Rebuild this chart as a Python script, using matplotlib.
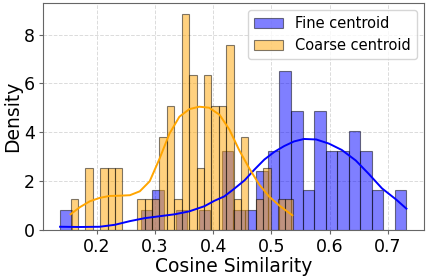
import matplotlib
matplotlib.use('Agg')
import matplotlib.pyplot as plt
import numpy as np

# histogram ranges (data min / max) and bin densities
fine_range = (0.137, 0.732)
fine_density = [0.81, 0, 0, 0, 0, 0, 0, 0.81, 1.63, 0, 0.81, 0, 0.81, 0, 3.25,
                0.81, 0.81, 2.44, 3.25, 6.50, 4.88, 1.63, 4.88, 3.25, 3.25, 4.07,
                3.25, 1.63, 0, 1.63]
coarse_range = (0.155, 0.537)
coarse_density = [1.27, 0, 2.53, 0, 2.53, 2.53, 2.53, 0, 0, 1.27, 1.27, 1.27, 3.80,
                  5.06, 1.27, 8.86, 6.33, 2.53, 6.33, 5.06, 5.06, 7.59, 1.27, 3.80,
                  0, 1.27, 2.53, 0, 1.27, 1.27]

# kde curves
fine_kde_x = [0.137, 0.171, 0.205, 0.231, 0.257, 0.282, 0.308, 0.334, 0.359, 0.385,
              0.402, 0.419, 0.436, 0.454, 0.471, 0.488, 0.505, 0.522, 0.539, 0.556,
              0.577, 0.599, 0.621, 0.645, 0.667, 0.690, 0.714, 0.732]
fine_kde_y = [0.14, 0.13, 0.14, 0.22, 0.37, 0.49, 0.57, 0.65, 0.77, 0.98,
              1.20, 1.38, 1.69, 2.04, 2.48, 2.89, 3.20, 3.44, 3.63, 3.73,
              3.71, 3.54, 3.28, 2.85, 2.31, 1.71, 1.26, 0.88]
coarse_kde_x = [0.155, 0.171, 0.188, 0.205, 0.222, 0.239, 0.257, 0.274, 0.291, 0.308,
                0.325, 0.342, 0.359, 0.376, 0.393, 0.411, 0.428, 0.445, 0.462, 0.479,
                0.496, 0.513, 0.536]
coarse_kde_y = [0.65, 0.94, 1.18, 1.32, 1.40, 1.41, 1.43, 1.59, 2.00, 2.93,
                3.95, 4.64, 4.95, 5.05, 5.01, 4.72, 4.11, 3.26, 2.53, 1.87,
                1.38, 1.02, 0.61]

fig = plt.figure(figsize=(4.26, 2.79), dpi=100)
ax = fig.add_axes([0.1, 0.175, 0.895, 0.815])
ax.set_axisbelow(True)
ax.grid(True, linestyle='--', color='#cccccc', linewidth=0.7, alpha=0.7)

fe = np.linspace(fine_range[0], fine_range[1], len(fine_density) + 1)
ce = np.linspace(coarse_range[0], coarse_range[1], len(coarse_density) + 1)

ax.bar(fe[:-1], fine_density, width=np.diff(fe), align='edge', color='blue',
       edgecolor='black', linewidth=0.8, alpha=0.5, label='Fine centroid')
ax.bar(ce[:-1], coarse_density, width=np.diff(ce), align='edge', color='orange',
       edgecolor='black', linewidth=0.8, alpha=0.5, label='Coarse centroid')
ax.plot(fine_kde_x, fine_kde_y, color='blue', linewidth=1.4)
ax.plot(coarse_kde_x, coarse_kde_y, color='orange', linewidth=1.4)

ax.set_xlim(0.107, 0.762)
ax.set_ylim(0, 9.3)
ax.set_xticks([0.2, 0.3, 0.4, 0.5, 0.6, 0.7])
ax.set_yticks([0, 2, 4, 6, 8])
ax.tick_params(labelsize=12.5, color='#666666', length=3, pad=2.5)
for s in ax.spines.values():
    s.set_color('#666666')
ax.set_xlabel('Cosine Similarity', fontsize=13.5, labelpad=1)
ax.set_ylabel('Density', fontsize=13.5, labelpad=1)
ax.legend(loc='upper right', fontsize=10.5)

fig.savefig('out.png', dpi=100)
